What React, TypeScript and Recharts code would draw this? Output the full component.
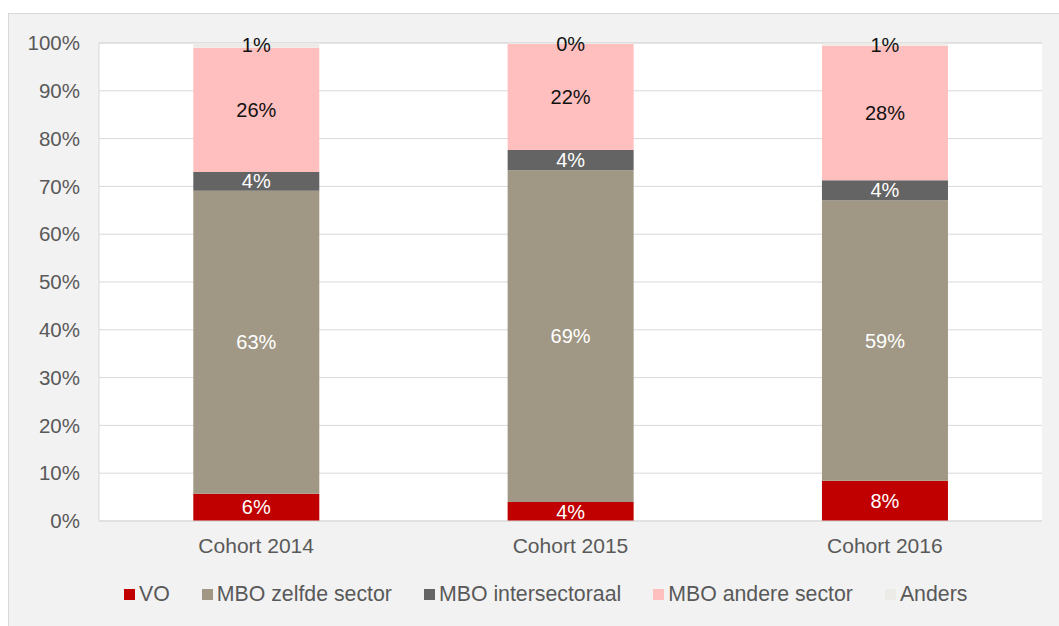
import { BarChart, Bar, XAxis, YAxis, CartesianGrid, Legend, LabelList } from "recharts";

const COHORTS = ["Cohort 2014", "Cohort 2015", "Cohort 2016"];
const VO = [5.7, 4.0, 8.4];
const MBO_ZELFDE = [63.4, 69.4, 58.7];
const MBO_INTER = [3.9, 4.2, 4.2];
const MBO_ANDERE = [26.0, 22.2, 28.1];
const ANDERS = [1.0, 0.2, 0.6];
const Y_TICKS = [0, 10, 20, 30, 40, 50, 60, 70, 80, 90, 100];

const data = COHORTS.map((cohort, i) => ({
  cohort,
  vo: VO[i],
  zelfde: MBO_ZELFDE[i],
  inter: MBO_INTER[i],
  andere: MBO_ANDERE[i],
  anders: ANDERS[i],
}));

const SERIES = [
  { key: "vo", name: "VO", color: "#c00000", label: "#ffffff" },
  { key: "zelfde", name: "MBO zelfde sector", color: "#a09885", label: "#ffffff" },
  { key: "inter", name: "MBO intersectoraal", color: "#646464", label: "#ffffff" },
  { key: "andere", name: "MBO andere sector", color: "#ffbfbf", label: "#111111" },
  { key: "anders", name: "Anders", color: "#ecebe8", label: "#111111" },
];

const FONT = "'Liberation Sans', Arial, sans-serif";
const pct = (v: number) => `${Math.round(Number(v))}%`;

function LegendRow({ payload }: any) {
  // legend goes in series order, VO first
  const items = SERIES.map((s) => (payload || []).find((p: any) => p.value === s.name) || { value: s.name, color: s.color });
  return (
    <div style={{ display: "flex", alignItems: "center", fontFamily: FONT, fontSize: 21.3, color: "#595959" }}>
      {items.map((p: any) => (
        <div key={p.value} style={{ display: "flex", alignItems: "center", marginRight: 32 }}>
          <span style={{ width: 11, height: 11, background: p.color, marginRight: 4, display: "inline-block" }} />
          <span>{p.value}</span>
        </div>
      ))}
    </div>
  );
}

export default function App() {
  return (
    <div
      style={{
        position: "absolute",
        left: 8,
        top: 13,
        width: 1051,
        height: 613,
        boxSizing: "border-box",
        background: "#f2f2f2",
        borderLeft: "1px solid #d9d9d9",
        borderTop: "1px solid #d9d9d9",
        fontFamily: FONT,
      }}
    >
      <div style={{ position: "absolute", left: -1, top: -1 }}>
        <BarChart width={1051} height={613} data={data} margin={{ top: 30, right: 17, bottom: 50, left: 0 }} barCategoryGap="30%">
          <CartesianGrid vertical={false} stroke="#d9d9d9" fill="#ffffff" />
          <XAxis
            dataKey="cohort"
            tick={{ fontSize: 21, fill: "#595959", fontFamily: FONT }}
            tickLine={false}
            tickSize={6}
            tickMargin={11}
            axisLine={{ stroke: "#d9d9d9" }}
          />
          <YAxis
            domain={[0, 100]}
            ticks={Y_TICKS}
            tickFormatter={(v) => `${v}%`}
            tick={{ fontSize: 20.5, fill: "#595959", fontFamily: FONT }}
            tickLine={false}
            tickSize={6}
            tickMargin={13}
            axisLine={{ stroke: "#d9d9d9" }}
            width={91}
            interval={0}
          />
          <Legend
            content={<LegendRow />}
            wrapperStyle={{ position: "absolute", left: 116, top: 569, width: "auto" }}
          />
          {SERIES.map((s) => (
            <Bar key={s.key} dataKey={s.key} name={s.name} stackId="a" fill={s.color} isAnimationActive={false}>
              <LabelList dataKey={s.key} position="center" formatter={pct} fill={s.label} fontSize={20} fontFamily={FONT} />
            </Bar>
          ))}
        </BarChart>
      </div>
    </div>
  );
}
